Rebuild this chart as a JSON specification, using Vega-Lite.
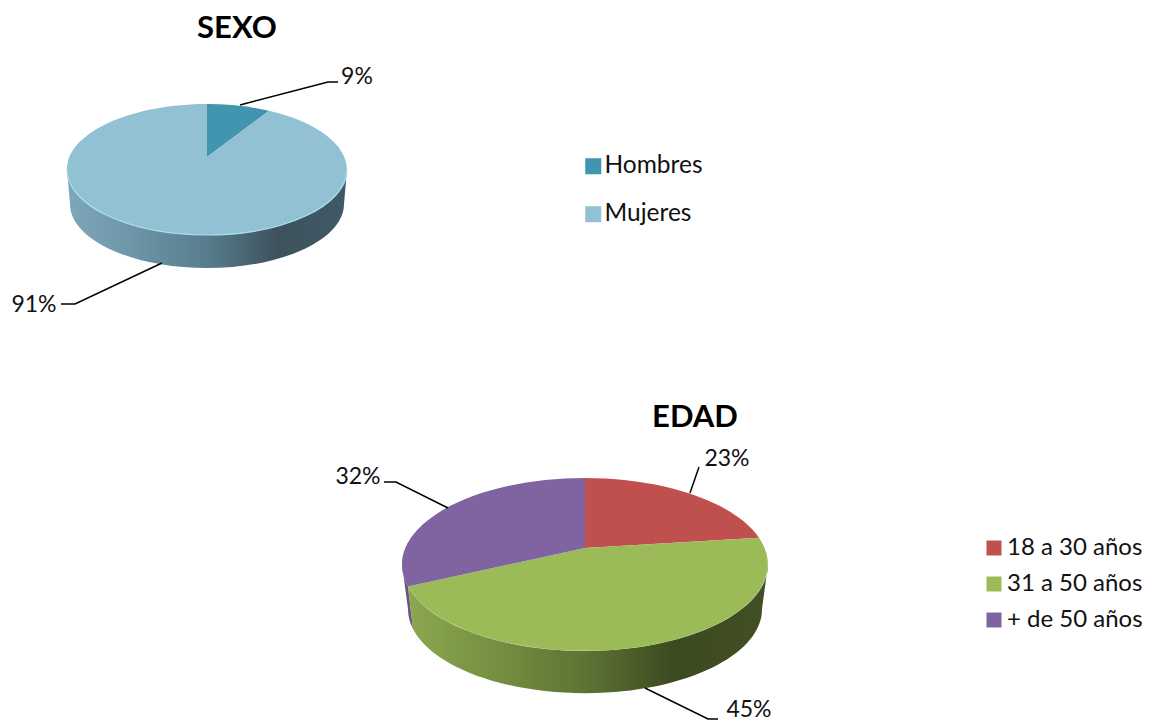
{
"$schema":"https://vega.github.io/schema/vega-lite/v6.json",
"width":1159,"height":722,"padding":0,"autosize":{"type":"none"},
"background":"white",
"config":{"view":{"stroke":null},"font":"Lato","axis":{"disable":true}},
"data":{"values":[
{"chart":"SEXO","category":"Hombres","share":0.09},
{"chart":"SEXO","category":"Mujeres","share":0.91},
{"chart":"EDAD","category":"18 a 30 años","share":0.23},
{"chart":"EDAD","category":"31 a 50 años","share":0.45},
{"chart":"EDAD","category":"+ de 50 años","share":0.32}
]},
"encoding":{
"x":{"field":"chart","type":"nominal","axis":null,"scale":{"type":"point","padding":0,"domain":["SEXO","EDAD"],"range":[207,585]}},
"y":{"field":"chart","type":"nominal","axis":null,"scale":{"type":"point","padding":0,"domain":["SEXO","EDAD"],"range":[157,548]}}
},
"layer":[
{"transform":[{"filter":"datum.chart==='SEXO'"}],
 "mark":{"type":"point","filled":true,"opacity":1,"size":0,"strokeWidth":0,"shape":"square"},
 "encoding":{
  "color":{"field":"category","type":"nominal","scale":{"domain":["Hombres","Mujeres"],"range":["#4195ae","#92c1d4"]},
   "legend":{"title":null,"orient":"none","legendX":581,"legendY":154,"symbolType":"square","symbolSize":256,"symbolStrokeWidth":0,"labelFont":"Lato","labelFontSize":24.5,"labelColor":"#111111","labelOffset":-1,"rowPadding":23,"labelLimit":300}}
 }},
{"transform":[{"filter":"datum.chart==='EDAD'"}],
 "mark":{"type":"point","filled":true,"opacity":1,"size":0,"strokeWidth":0,"shape":"square"},
 "encoding":{
  "color":{"field":"category","type":"nominal","scale":{"domain":["18 a 30 años","31 a 50 años","+ de 50 años"],"range":["#c0504d","#9bbb59","#8064a2"]},
   "legend":{"title":null,"orient":"none","legendX":982,"legendY":536,"symbolType":"square","symbolSize":225,"symbolStrokeWidth":0,"labelFont":"Lato","labelFontSize":24,"labelColor":"#111111","labelOffset":1,"rowPadding":12,"labelLimit":300}}
 }},
{"transform":[{"filter":"datum.category==='Mujeres'"}],
 "mark":{"type":"point","filled":true,"opacity":1,"size":4,"strokeWidth":0,"shape":"M-140 12.5A140 65.5 0 0 0 140 12.5L137 47A137 64 0 0 1 -137 47Z",
 "fill":{"gradient":"linear","x1":0,"x2":1,"y1":0,"y2":0,"stops":[{"offset":0,"color":"#7ea7b9"},{"offset":0.2,"color":"#6f98aa"},{"offset":0.5,"color":"#587d8d"},{"offset":0.75,"color":"#3d525c"},{"offset":1,"color":"#3f5a66"}]}}},
{"transform":[{"filter":"datum.category==='+ de 50 años'"}],
 "mark":{"type":"point","filled":true,"opacity":1,"size":4,"strokeWidth":0,"shape":"M-183 16.5A183 86.5 0 0 0 -177 38.5L-172 81A177 84 0 0 1 -177 61Z","fill":"#6a5288"}},
{"transform":[{"filter":"datum.category==='31 a 50 años'"}],
 "mark":{"type":"point","filled":true,"opacity":1,"size":4,"strokeWidth":0,"shape":"M-177 38.5A183 86.5 0 0 0 183 16.5L177 61A177 84 0 0 1 -172 81Z",
 "fill":{"gradient":"linear","x1":0,"x2":1,"y1":0,"y2":0,"stops":[{"offset":0,"color":"#8aa84e"},{"offset":0.25,"color":"#748f41"},{"offset":0.5,"color":"#5c7233"},{"offset":0.74,"color":"#3c4a20"},{"offset":1,"color":"#434f24"}]}}},
{"transform":[{"filter":"datum.category==='Hombres'"}],"mark":{"type":"point","filled":true,"opacity":1,"size":4,"strokeWidth":0,"fill":"#4195ae","shape":"M0 0L0 -53A140 65.5 0 0 1 62 -46.2Z"}},
{"transform":[{"filter":"datum.category==='Mujeres'"}],"mark":{"type":"point","filled":true,"opacity":1,"size":4,"strokeWidth":0,"fill":"#92c1d4","shape":"M0 0L62 -46.2A140 65.5 0 1 1 0 -53Z"}},
{"transform":[{"filter":"datum.category==='18 a 30 años'"}],"mark":{"type":"point","filled":true,"opacity":1,"size":4,"strokeWidth":0,"fill":"#c0504d","shape":"M0 0L0 -70A183 86.5 0 0 1 174 -10.3Z"}},
{"transform":[{"filter":"datum.category==='31 a 50 años'"}],"mark":{"type":"point","filled":true,"opacity":1,"size":4,"strokeWidth":0,"fill":"#9bbb59","shape":"M0 0L174 -10.3A183 86.5 0 1 1 -177 38.5Z"}},
{"transform":[{"filter":"datum.category==='+ de 50 años'"}],"mark":{"type":"point","filled":true,"opacity":1,"size":4,"strokeWidth":0,"fill":"#8064a2","shape":"M0 0L-177 38.5A183 86.5 0 0 1 0 -70Z"}},
{"transform":[{"filter":"datum.category==='Mujeres'"}],
 "mark":{"type":"point","filled":false,"opacity":1,"size":4,"stroke":"#a9deef","strokeWidth":1.2,"shape":"M-140 12.5A140 65.5 0 0 0 140 12.5"}},
{"transform":[{"filter":"datum.category==='Hombres'"}],"mark":{"type":"point","filled":false,"opacity":1,"size":4,"stroke":"#000000","strokeWidth":1.5,"shape":"M33 -52L121 -75L131 -75"}},
{"transform":[{"filter":"datum.category==='Mujeres'"}],"mark":{"type":"point","filled":false,"opacity":1,"size":4,"stroke":"#000000","strokeWidth":1.5,"shape":"M-45 106L-132 147L-146 147"}},
{"transform":[{"filter":"datum.category==='18 a 30 años'"}],"mark":{"type":"point","filled":false,"opacity":1,"size":4,"stroke":"#000000","strokeWidth":1.5,"shape":"M105 -55L114 -81"}},
{"transform":[{"filter":"datum.category==='31 a 50 años'"}],"mark":{"type":"point","filled":false,"opacity":1,"size":4,"stroke":"#000000","strokeWidth":1.5,"shape":"M60 140L123 171L133 171"}},
{"transform":[{"filter":"datum.category==='+ de 50 años'"}],"mark":{"type":"point","filled":false,"opacity":1,"size":4,"stroke":"#000000","strokeWidth":1.5,"shape":"M-137 -40L-189 -66L-201 -66"}},
{"transform":[{"filter":"datum.category==='Hombres'"}],"mark":{"type":"text","font":"Lato","fontSize":23,"color":"#111111","dx":150,"dy":-80},"encoding":{"text":{"field":"share","format":".0%"}}},
{"transform":[{"filter":"datum.category==='Mujeres'"}],"mark":{"type":"text","font":"Lato","fontSize":23,"color":"#111111","dx":-173,"dy":148},"encoding":{"text":{"field":"share","format":".0%"}}},
{"transform":[{"filter":"datum.category==='18 a 30 años'"}],"mark":{"type":"text","font":"Lato","fontSize":23,"color":"#111111","dx":142,"dy":-89},"encoding":{"text":{"field":"share","format":".0%"}}},
{"transform":[{"filter":"datum.category==='31 a 50 años'"}],"mark":{"type":"text","font":"Lato","fontSize":23,"color":"#111111","dx":164,"dy":162},"encoding":{"text":{"field":"share","format":".0%"}}},
{"transform":[{"filter":"datum.category==='+ de 50 años'"}],"mark":{"type":"text","font":"Lato","fontSize":23,"color":"#111111","dx":-227,"dy":-71},"encoding":{"text":{"field":"share","format":".0%"}}},
{"transform":[{"filter":"datum.category==='Hombres'"}],"mark":{"type":"text","font":"Lato","fontWeight":"bold","fontSize":31,"color":"#000000","dx":30,"dy":-128},"encoding":{"text":{"field":"chart"}}},
{"transform":[{"filter":"datum.category==='18 a 30 años'"}],"mark":{"type":"text","font":"Lato","fontWeight":"bold","fontSize":31,"color":"#000000","dx":110,"dy":-130},"encoding":{"text":{"field":"chart"}}}
],
"resolve":{"scale":{"color":"independent"},"legend":{"color":"independent"}}
}
